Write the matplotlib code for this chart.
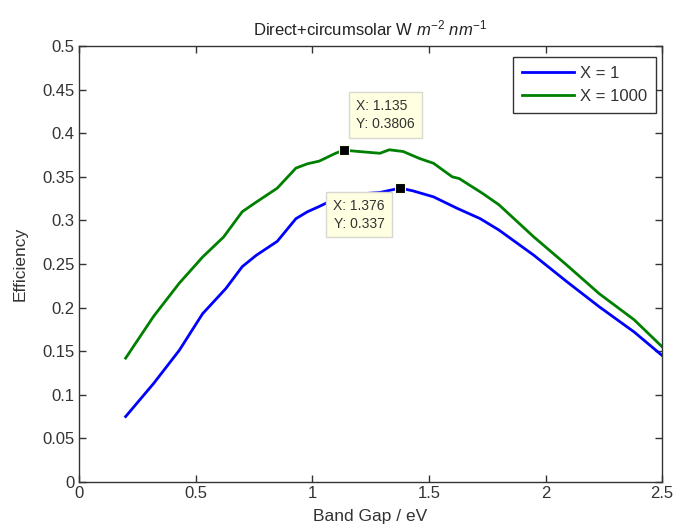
import matplotlib
matplotlib.use("Agg")
import matplotlib.pyplot as plt
from matplotlib.ticker import FuncFormatter

plt.rcParams['font.family'] = ['Liberation Sans', 'DejaVu Sans']
plt.rcParams['mathtext.fontset'] = 'custom'
plt.rcParams['mathtext.it'] = 'Liberation Sans:italic'
plt.rcParams['mathtext.rm'] = 'Liberation Sans'

# Data
x_blue = [0.2, 0.32, 0.43, 0.53, 0.63, 0.70, 0.76, 0.85, 0.93, 0.98, 1.03, 1.10, 1.13,
          1.29, 1.376, 1.43, 1.52, 1.62, 1.72, 1.80, 1.95, 2.09, 2.23, 2.38, 2.5]
y_blue = [0.075, 0.113, 0.151, 0.193, 0.222, 0.247, 0.260, 0.276, 0.302, 0.310, 0.316, 0.325, 0.329,
          0.332, 0.337, 0.334, 0.327, 0.314, 0.302, 0.289, 0.260, 0.230, 0.201, 0.172, 0.145]

x_green = [0.2, 0.32, 0.43, 0.53, 0.62, 0.70, 0.76, 0.85, 0.93, 0.98, 1.03, 1.10, 1.135,
           1.2, 1.29, 1.33, 1.39, 1.46, 1.52, 1.6, 1.63, 1.73, 1.8, 1.95, 2.09, 2.23, 2.38, 2.5]
y_green = [0.142, 0.190, 0.228, 0.258, 0.281, 0.310, 0.321, 0.337, 0.360, 0.365, 0.368, 0.377, 0.3806,
           0.379, 0.377, 0.381, 0.379, 0.371, 0.3655, 0.350, 0.348, 0.331, 0.318, 0.281, 0.249, 0.216, 0.186, 0.155]

labels = ["X = 1", "X = 1000"]
tip_green = (1.135, 0.3806)
tip_blue = (1.376, 0.337)

fig = plt.figure(figsize=(6.75, 5.26), dpi=100)
ax = fig.add_axes([0.117, 0.0837, 0.864, 0.8288])

ax.plot(x_blue, y_blue, color=(0, 0, 1), lw=2, label=labels[0])
ax.plot(x_green, y_green, color=(0, 0.5, 0), lw=2, label=labels[1])

ax.set_xlim(0, 2.5)
ax.set_ylim(0, 0.5)
ax.set_xticks([0, 0.5, 1, 1.5, 2, 2.5])
ax.set_yticks([i * 0.05 for i in range(11)])
fmt = FuncFormatter(lambda v, p: ('%g' % round(v, 4)))
ax.xaxis.set_major_formatter(fmt)
ax.yaxis.set_major_formatter(fmt)
ax.tick_params(direction='in', top=True, right=True, length=5, labelsize=12,
               colors='#333333', width=1, pad=3)
for s in ax.spines.values():
    s.set_color('#333333')
    s.set_linewidth(1)

ax.set_title(r"Direct+circumsolar W $m^{-2}$ $nm^{-1}$", fontsize=12, pad=8, color='#222222')
ax.set_xlabel("Band Gap / eV", fontsize=12.5, labelpad=6, color='#333333')
ax.set_ylabel("Efficiency", fontsize=12.5, labelpad=11, color='#333333')

leg = ax.legend(loc='upper right', fontsize=12, fancybox=False, edgecolor='#333333',
                handlelength=3.1, handletextpad=0.35, borderpad=0.55, labelspacing=0.45,
                framealpha=1, borderaxespad=0, bbox_to_anchor=(0.9897, 0.975))
leg.get_frame().set_linewidth(1)
for t in leg.get_texts():
    t.set_color('#333333')

boxprops = dict(boxstyle='square,pad=0.5', fc='#ffffe1', ec='#d8d8d0', lw=1)
for (tx, ty), txt, off, ha, va in [
    (tip_green, "X: 1.135\nY: 0.3806", (9, 14), 'left', 'bottom'),
    (tip_blue, "X: 1.376\nY: 0.337", (-11, -8), 'right', 'top'),
]:
    ax.plot([tx], [ty], marker='s', color='black', markersize=7, mec='#ffffe1', mew=0.8, zorder=5)
    ax.annotate(txt, xy=(tx, ty), xytext=off, textcoords='offset points',
                ha=ha, va=va, fontsize=10, color='#333333', bbox=boxprops,
                linespacing=1.3, zorder=6)

fig.savefig("out.png", dpi=100)
